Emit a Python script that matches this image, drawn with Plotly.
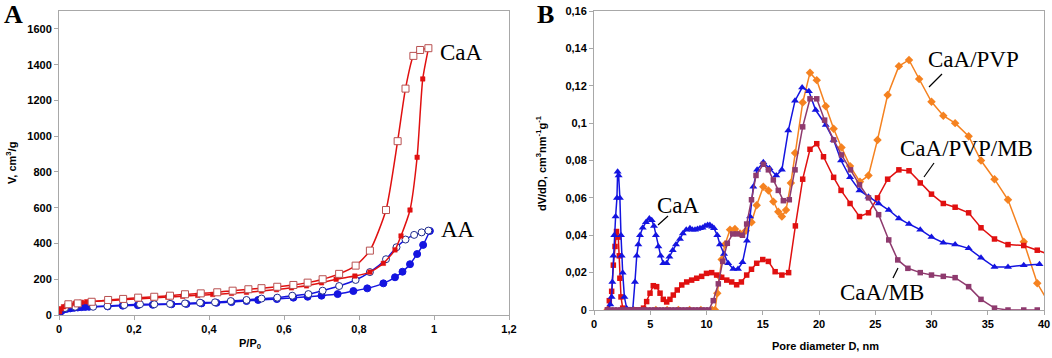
import plotly.graph_objects as go

# ---------------- Panel A data (P/P0, V cm3/g) ----------------
caa_ads_p = [0.002, 0.006, 0.012, 0.02, 0.03, 0.043, 0.06, 0.074, 0.09, 0.13, 0.17, 0.21, 0.25, 0.29,
             0.33, 0.37, 0.41, 0.46, 0.50, 0.54, 0.58, 0.62, 0.66, 0.70, 0.739, 0.789, 0.829, 0.865,
             0.896, 0.912, 0.936, 0.955, 0.970, 0.985]
caa_ads_v = [18, 35, 46, 52, 56, 65, 71, 74, 76, 80, 85, 90, 95, 100,
             105, 110, 115, 121, 127, 134, 142, 152, 163, 180, 200, 218, 240, 289,
             364, 442, 587, 882, 1320, 1490]
caa_des_p = [0.025, 0.05, 0.087, 0.131, 0.171, 0.211, 0.254, 0.296, 0.336, 0.378, 0.422, 0.463,
             0.505, 0.540, 0.582, 0.625, 0.663, 0.703, 0.747, 0.791, 0.829, 0.872, 0.903, 0.924,
             0.945, 0.963, 0.985]
caa_des_v = [60, 65, 74, 84, 90, 97, 102, 108, 116, 121, 127, 136,
             144, 150, 158, 168, 181, 200, 230, 276, 360, 587, 972, 1266,
             1449, 1482, 1492]
aa_ads_p = [0.002, 0.006, 0.012, 0.02, 0.03, 0.04, 0.05, 0.06, 0.07, 0.08, 0.13, 0.17, 0.21, 0.25,
            0.30, 0.34, 0.38, 0.42, 0.46, 0.50, 0.531, 0.581, 0.625, 0.663, 0.70, 0.743, 0.785,
            0.822, 0.865, 0.896, 0.916, 0.936, 0.955, 0.971, 0.989]
aa_ads_v = [12, 22, 30, 34, 37, 40, 42, 44, 45, 46, 48, 52, 55, 57,
            60, 62, 65, 68, 72, 78, 84, 89, 97, 102, 108, 117, 134,
            149, 177, 211, 242, 284, 341, 392, 470]
aa_des_p = [0.016, 0.043, 0.091, 0.129, 0.174, 0.216, 0.254, 0.296, 0.336, 0.376, 0.416, 0.458,
            0.50, 0.54, 0.582, 0.622, 0.665, 0.703, 0.747, 0.791, 0.829, 0.872, 0.90, 0.924,
            0.947, 0.967, 0.985]
aa_des_v = [39, 46, 46, 50, 56, 60, 60, 62, 65, 69, 71, 78,
            84, 92, 97, 108, 117, 136, 162, 196, 240, 312, 379, 422,
            448, 462, 472]

a_xticks = [0, 0.2, 0.4, 0.6, 0.8, 1.0, 1.2]
a_xlabels = ["0", "0,2", "0,4", "0,6", "0,8", "1", "1,2"]
a_yticks = [0, 200, 400, 600, 800, 1000, 1200, 1400, 1600]
a_ylabels = ["0", "200", "400", "600", "800", "1000", "1200", "1400", "1600"]

# ---------------- Panel B data (D nm, dV/dD) ----------------
caa_d = [1.3, 1.45, 1.57, 1.63, 1.72, 1.8, 1.92, 2.04, 2.1, 2.19, 2.3, 2.4, 2.46, 2.55, 2.7, 2.9, 3.2,
         3.44, 3.64, 3.8, 3.94, 4.09, 4.33, 4.62, 4.92, 5.13, 5.33, 5.5, 5.72, 5.93, 6.16, 6.46,
         6.7, 7.0, 7.29, 7.64, 7.9, 8.2, 8.53, 8.75, 8.98, 9.2, 9.42, 9.65, 9.87, 10.1, 10.3,
         10.5, 10.67, 10.96, 11.2, 11.56, 11.93, 12.38, 12.8, 13.2, 13.6, 13.87, 14.16, 14.5,
         15.05, 15.6, 16.2, 16.7, 17.27, 17.87, 18.5, 19.1, 19.7, 20.6, 21.3, 21.96, 22.76,
         23.6, 24.4, 25.3, 26.2, 27.1, 28.0, 29.0, 30.0, 31.05, 32.1, 33.3, 34.4, 35.6, 36.8,
         38.2, 39.6]
caa_v = [0, 0.003, 0.007, 0.015, 0.029, 0.04, 0.05, 0.06, 0.074, 0.072, 0.06, 0.04, 0.029, 0.02,
         0.007, 0.001, 0,
         0, 0.015, 0.029, 0.035, 0.04, 0.044, 0.047, 0.049, 0.048, 0.045, 0.04, 0.034, 0.029,
         0.025, 0.025, 0.0285, 0.032, 0.035, 0.038, 0.041, 0.043, 0.0437, 0.043, 0.043, 0.0433,
         0.0437, 0.044, 0.045, 0.0455, 0.0455, 0.0445, 0.0437, 0.04, 0.035, 0.03, 0.025, 0.022,
         0.022, 0.0255, 0.037, 0.05, 0.066, 0.075, 0.079, 0.0758, 0.072, 0.075, 0.096, 0.112,
         0.119, 0.117, 0.107, 0.099, 0.091, 0.08, 0.071, 0.064, 0.0606, 0.057, 0.0535, 0.049,
         0.046, 0.043, 0.039, 0.036, 0.035, 0.033, 0.028, 0.023, 0.023, 0.024, 0.0245]

pvpmb_d = [1.2, 1.36, 1.57, 1.72, 1.87, 2.0, 2.16, 2.25, 2.3, 2.4, 2.55, 2.8, 3.2, 3.6, 4.0, 4.4,
           4.68, 4.98, 5.27, 5.57, 5.87, 6.16, 6.46, 6.75, 7.05, 7.4, 7.8, 8.24, 8.68, 9.13,
           9.57, 10.0, 10.46, 10.9, 11.35, 11.8, 12.24, 12.68, 13.1, 13.57, 14.0, 14.46, 15.0,
           15.5, 16.1, 16.7, 17.3, 17.9, 18.55, 19.2, 19.8, 20.4, 21.3, 21.96, 22.76, 23.6,
           24.4, 25.2, 26.1, 27.1, 28.0, 29.0, 30.0, 31.05, 32.1, 33.3, 34.4, 35.6, 36.8, 38.2,
           39.4, 40.8]
pvpmb_v = [0, 0.005, 0.01, 0.024, 0.034, 0.042, 0.039, 0.029, 0.017, 0.007, 0.001, 0, 0, 0, 0,
           0.001, 0.0045, 0.009, 0.013, 0.0125, 0.009, 0.0057, 0.0043, 0.0057, 0.008, 0.0107,
           0.0134, 0.015, 0.016, 0.017, 0.018, 0.0196, 0.02, 0.0187, 0.0175, 0.016, 0.015,
           0.0135, 0.015, 0.0187, 0.0218, 0.025, 0.027, 0.026, 0.0205, 0.0187, 0.02, 0.045,
           0.07, 0.086, 0.089, 0.082, 0.071, 0.064, 0.057, 0.05, 0.052, 0.06, 0.07, 0.075,
           0.0745, 0.068, 0.062, 0.057, 0.055, 0.052, 0.044, 0.038, 0.035, 0.0345, 0.032, 0.029]

pvp_d = [1.2, 2.6, 3.5, 4.5, 5.5, 6.5, 7.5, 8.5, 9.5, 10.5, 10.76,
         10.96, 11.14, 11.35, 11.64, 12.09, 12.53, 12.98, 13.5, 14.0, 14.46, 15.05, 15.5, 15.94,
         16.38, 16.7, 17.07, 17.5, 17.87, 18.55, 19.2, 19.8, 20.6, 21.3, 22.0, 22.76, 23.64,
         24.4, 25.2, 26.1, 27.1, 28.0, 28.9, 30.0, 31.05, 32.1, 33.3, 34.4, 35.6, 36.8, 38.2,
         39.4, 40.4]
pvp_v = [0, 0, 0, 0, 0, 0, 0, 0, 0, 0, 0,
         0.009, 0.018, 0.027, 0.035, 0.043, 0.0433, 0.041, 0.0424, 0.047, 0.056, 0.066, 0.064,
         0.058, 0.0526, 0.05, 0.0535, 0.068, 0.084, 0.111, 0.127, 0.123, 0.109, 0.097, 0.087,
         0.077, 0.0686, 0.072, 0.091, 0.115, 0.1305, 0.1338, 0.1236, 0.1114, 0.104, 0.1, 0.093,
         0.08, 0.07, 0.059, 0.0365, 0.0143, 0.004]

mb_d = [1.2, 1.5, 1.8, 2.1, 2.4, 2.7, 3.0, 3.3, 3.6, 3.9, 4.2, 4.5, 4.8, 5.1, 5.4, 5.7, 6.0,
        6.3, 6.6, 6.9, 7.2, 7.5, 7.8, 8.1, 8.4, 8.7, 9.0, 9.3, 9.6, 9.9, 10.2, 10.6, 11.05,
        11.44, 11.85, 12.33, 12.74, 13.2, 13.57, 14.0, 14.4, 15.05, 15.5, 15.94, 16.38, 16.83,
        17.36, 17.87, 18.55, 19.2, 19.8, 20.5, 21.3, 22.0, 22.8, 23.6, 24.4, 25.3, 26.2, 27.0,
        27.9, 29.0, 30.0, 31.05, 32.1, 33.3, 34.4, 35.6, 36.8, 38.2, 39.4]
mb_v = [0, 0, 0, 0, 0, 0, 0, 0, 0, 0, 0, 0, 0, 0, 0, 0, 0,
        0, 0, 0, 0, 0, 0, 0, 0, 0, 0, 0, 0, 0, 0, 0.005, 0.014,
        0.026, 0.0357, 0.0407, 0.0407, 0.04, 0.046, 0.059, 0.072, 0.078, 0.075, 0.0696, 0.064,
        0.0585, 0.059, 0.075, 0.098, 0.113, 0.113, 0.1016, 0.091, 0.083, 0.075, 0.067, 0.06,
        0.051, 0.0375, 0.0268, 0.0223, 0.02, 0.0187, 0.018, 0.0173, 0.0125, 0.0057, 0.001, 0,
        0, 0]

b_xticks = [0, 5, 10, 15, 20, 25, 30, 35, 40]
b_xlabels = ["0", "5", "10", "15", "20", "25", "30", "35", "40"]
b_yticks = [0, 0.02, 0.04, 0.06, 0.08, 0.10, 0.12, 0.14, 0.16]
b_ylabels = ["0", "0,02", "0,04", "0,06", "0,08", "0,1", "0,12", "0,14", "0,16"]

# ---------------- figure ----------------
W, H = 1052, 358
RED = "#E01010"
BLUE = "#1414E0"
ORANGE = "#F58220"
PURPLE = "#8E3A6E"


def px(x):
    return x / W


def py(y):
    return 1 - y / H


fig = go.Figure()

# Panel A
fig.add_trace(go.Scatter(x=aa_ads_p, y=aa_ads_v, mode="lines+markers",
                         line=dict(color=BLUE, width=1.5, shape="spline", smoothing=0.6),
                         marker=dict(symbol="circle", size=7, color=BLUE, line=dict(color=BLUE, width=1)),
                         xaxis="x", yaxis="y"))
fig.add_trace(go.Scatter(x=aa_des_p, y=aa_des_v, mode="lines+markers",
                         line=dict(color=BLUE, width=1.5, shape="spline", smoothing=0.6),
                         marker=dict(symbol="circle", size=7, color="white", line=dict(color="#1E2A8C", width=1)),
                         xaxis="x", yaxis="y"))
fig.add_trace(go.Scatter(x=caa_ads_p, y=caa_ads_v, mode="lines+markers",
                         line=dict(color=RED, width=1.5, shape="spline", smoothing=0.6),
                         marker=dict(symbol="square", size=4.5, color=RED, line=dict(color=RED, width=0.5)),
                         xaxis="x", yaxis="y"))
fig.add_trace(go.Scatter(x=caa_des_p, y=caa_des_v, mode="lines+markers",
                         line=dict(color=RED, width=1.5, shape="spline", smoothing=0.6),
                         marker=dict(symbol="square", size=7, color="white", line=dict(color="#B85050", width=1)),
                         xaxis="x", yaxis="y"))

# Panel B
fig.add_trace(go.Scatter(x=pvp_d, y=pvp_v, mode="lines+markers",
                         line=dict(color=ORANGE, width=1.5),
                         marker=dict(symbol="diamond", size=6.5, color=ORANGE),
                         xaxis="x2", yaxis="y2"))
fig.add_trace(go.Scatter(x=pvpmb_d, y=pvpmb_v, mode="lines+markers",
                         line=dict(color=RED, width=1.5),
                         marker=dict(symbol="square", size=5.5, color=RED),
                         xaxis="x2", yaxis="y2"))
fig.add_trace(go.Scatter(x=caa_d, y=caa_v, mode="lines+markers",
                         line=dict(color=BLUE, width=1.5),
                         marker=dict(symbol="triangle-up", size=7, color=BLUE),
                         xaxis="x2", yaxis="y2"))
fig.add_trace(go.Scatter(x=mb_d, y=mb_v, mode="lines+markers",
                         line=dict(color=PURPLE, width=1.5),
                         marker=dict(symbol="square", size=5.5, color=PURPLE),
                         xaxis="x2", yaxis="y2"))

tickfont = dict(family="Liberation Sans", size=11, color="black", weight="bold")
axis_common = dict(showgrid=False, zeroline=False, showline=True, mirror=True,
                   linecolor="#A8A8A8", linewidth=1, ticks="outside", ticklen=4,
                   tickcolor="#A8A8A8", tickfont=tickfont, automargin=False)

fig.update_layout(
    width=W, height=H, autosize=False, margin=dict(l=0, r=0, t=0, b=0, pad=0, autoexpand=False),
    paper_bgcolor="white", plot_bgcolor="white", showlegend=False,
    xaxis=dict(domain=[px(59), px(509)], range=[0, 1.2], tickvals=a_xticks, ticktext=a_xlabels,
               anchor="y", **axis_common),
    yaxis=dict(domain=[py(315), py(11)], range=[0, 1700], tickvals=a_yticks, ticktext=a_ylabels,
               anchor="x", **axis_common),
    xaxis2=dict(domain=[px(594), px(1044)], range=[0, 40], tickvals=b_xticks, ticktext=b_xlabels,
                anchor="y2", **axis_common),
    yaxis2=dict(domain=[py(310), py(11)], range=[0, 0.16], tickvals=b_yticks, ticktext=b_ylabels,
                anchor="x2", **axis_common),
)

serif = dict(family="Liberation Serif", size=23, color="black")
labfont = dict(family="Liberation Sans", size=11, color="black", weight="bold")


def ann(text, x, y, font, angle=0):
    fig.add_annotation(text=text, x=px(x), y=py(y), xref="paper", yref="paper",
                       showarrow=False, font=font, textangle=angle,
                       xanchor="center", yanchor="middle")


ann("A", 13, 14, dict(family="Liberation Serif", size=26, color="black", weight="bold"))
ann("B", 545, 14, dict(family="Liberation Serif", size=26, color="black", weight="bold"))
ann("V, cm<sup>3</sup>/g", 11, 163, labfont, -90)
ann("P/P<sub>0</sub>", 250, 344, labfont)
ann("dV/dD, cm<sup>3</sup>nm<sup>-1</sup>g<sup>-1</sup>", 541, 163, labfont, -90)
ann("Pore diameter D, nm", 825, 346, labfont)
ann("CaA", 461, 53, serif)
ann("AA", 458, 229, serif)
ann("CaA", 678, 205, serif)
ann("CaA/PVP", 973, 60, serif)
ann("CaA/PVP/MB", 966, 149, serif)
ann("CaA/MB", 882, 292, serif)

for (x0, y0, x1, y1) in [(658, 225, 668, 216), (929, 87, 942, 74), (924, 177, 934, 163), (893, 278, 898, 268)]:
    fig.add_shape(type="line", xref="paper", yref="paper", x0=px(x0), y0=py(y0), x1=px(x1), y1=py(y1),
                  line=dict(color="black", width=1.2))

fig.write_html("out.html", config={"responsive": False, "displayModeBar": False},
               post_script="document.body.style.margin='0px';document.body.style.overflow='hidden';")
